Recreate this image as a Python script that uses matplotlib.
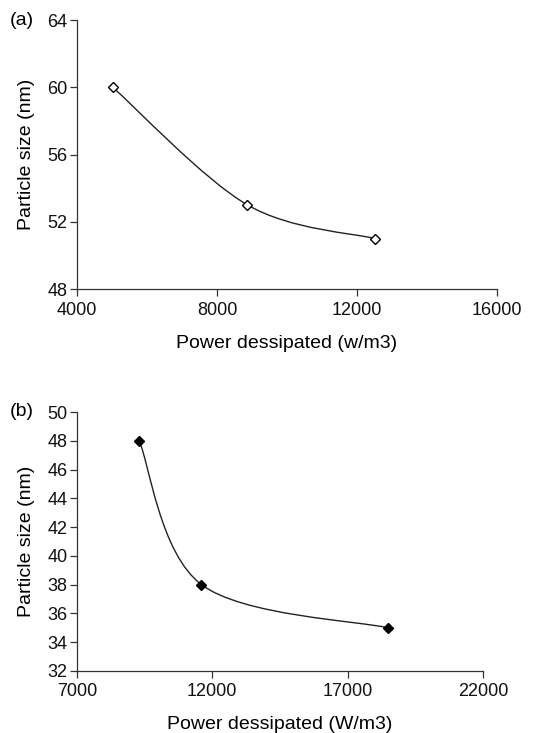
import numpy as np
from matplotlib import pyplot as plt
from matplotlib.path import Path
from matplotlib.patches import PathPatch

plt.rcParams["font.family"] = ["Liberation Sans", "DejaVu Sans"]

# (a) power dissipated vs particle size
power_a = [5020, 8870, 12510]
size_a = [60, 53, 51]

# (b)
power_b = [9300, 11600, 18500]
size_b = [48, 38, 35]


def smooth_path(xs, ys):
    # Excel-style smoothed line: cubic Bezier segments with Catmull-Rom tangents
    pts = np.column_stack([xs, ys]).astype(float)
    n = len(pts)
    verts = [pts[0]]
    codes = [Path.MOVETO]
    for i in range(n - 1):
        p_prev = pts[i - 1] if i > 0 else pts[i]
        p_next2 = pts[i + 2] if i + 2 < n else pts[i + 1]
        c1 = pts[i] + (pts[i + 1] - p_prev) / 6
        c2 = pts[i + 1] - (p_next2 - pts[i]) / 6
        verts += [c1, c2, pts[i + 1]]
        codes += [Path.CURVE4] * 3
    return Path(verts, codes)


def style_axes(ax):
    for side in ("top", "right"):
        ax.spines[side].set_visible(False)
    for side in ("left", "bottom"):
        ax.spines[side].set_color("#333333")
        ax.spines[side].set_linewidth(0.9)
    ax.tick_params(direction="out", length=5, width=0.9, color="#333333",
                   labelsize=13, labelcolor="#111111")
    ax.tick_params(axis="x", pad=4)
    ax.tick_params(axis="y", pad=2)


fig = plt.figure(figsize=(5.47, 7.33), dpi=100)

ax1 = fig.add_axes([0.1408, 0.6057, 0.7678, 0.367])
ax1.add_patch(PathPatch(smooth_path(power_a, size_a), fill=False, lw=1.0, color="#222222"))
ax1.plot(power_a, size_a, ls="none", marker="D", ms=5.5, mfc="white", mec="black", mew=1.0)
ax1.set_xlim(4000, 16000)
ax1.set_ylim(48, 64)
ax1.set_xticks([4000, 8000, 12000, 16000])
ax1.set_yticks([48, 52, 56, 60, 64])
ax1.set_xlabel("Power dessipated (w/m3)", fontsize=14, labelpad=12)
ax1.set_ylabel("Particle size (nm)", fontsize=14, labelpad=9)
style_axes(ax1)
fig.text(0.018, 0.972, "(a)", fontsize=14, va="center", ha="left")

ax2 = fig.add_axes([0.1408, 0.0846, 0.742, 0.3533])
ax2.add_patch(PathPatch(smooth_path(power_b, size_b), fill=False, lw=1.0, color="#222222"))
ax2.plot(power_b, size_b, ls="none", marker="D", ms=5.5, mfc="black", mec="black", mew=1.0)
ax2.set_xlim(7000, 22000)
ax2.set_ylim(32, 50)
ax2.set_xticks([7000, 12000, 17000, 22000])
ax2.set_yticks(np.arange(32, 51, 2))
ax2.set_xlabel("Power dessipated (W/m3)", fontsize=14, labelpad=11)
ax2.set_ylabel("Particle size (nm)", fontsize=14, labelpad=9)
style_axes(ax2)
fig.text(0.018, 0.438, "(b)", fontsize=14, va="center", ha="left")

fig.savefig("out.png", dpi=100)
